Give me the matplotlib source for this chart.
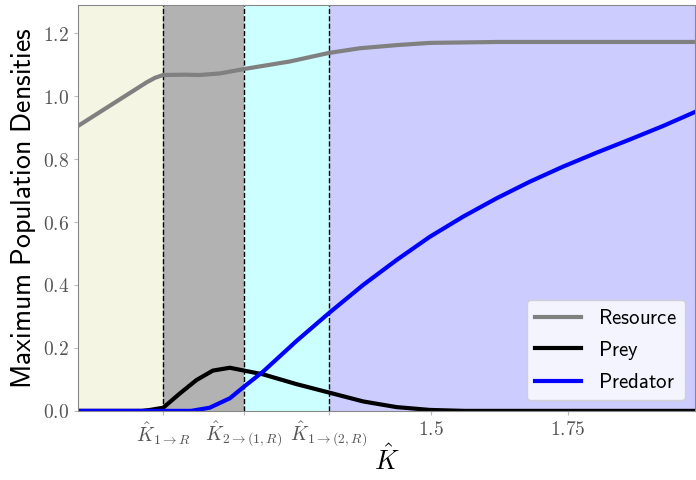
import numpy as np
import matplotlib
matplotlib.use("Agg")
import matplotlib.pyplot as plt

plt.rcParams["mathtext.fontset"] = "cm"

# carrying capacity thresholds between regimes
k_thresholds = [1.009, 1.157, 1.312]
k_labels = [r"$\hat{K}_{1\to R}$", r"$\hat{K}_{2\to(1,R)}$", r"$\hat{K}_{1\to(2,R)}$"]
k_min, k_max = 0.853, 1.983

# maximum densities along K
k_resource = [0.853, 0.979, 0.994, 1.009, 1.049, 1.076, 1.113, 1.157, 1.241, 1.312,
              1.369, 1.437, 1.497, 1.625, 1.983]
resource = [0.905, 1.044, 1.058, 1.067, 1.068, 1.067, 1.072, 1.086, 1.110, 1.137,
            1.152, 1.162, 1.169, 1.172, 1.172]

k_prey = [0.853, 0.970, 0.985, 1.009, 1.040, 1.070, 1.100, 1.131, 1.157, 1.192,
          1.253, 1.313, 1.375, 1.436, 1.497, 1.560, 1.983]
prey = [0.0, 0.0, 0.003, 0.010, 0.056, 0.098, 0.128, 0.137, 0.128, 0.116,
        0.085, 0.058, 0.030, 0.012, 0.003, 0.0, 0.0]

k_predator = [0.853, 1.060, 1.094, 1.131, 1.157, 1.192, 1.253, 1.312, 1.375,
              1.436, 1.497, 1.558, 1.619, 1.680, 1.741, 1.802, 1.863, 1.924, 1.983]
predator = [0.0, 0.0, 0.010, 0.040, 0.077, 0.125, 0.222, 0.310, 0.400,
            0.479, 0.553, 0.617, 0.675, 0.728, 0.776, 0.820, 0.862, 0.905, 0.950]

region_colors = ["#f5f5e3", "#b2b2b2", "#ccffff", "#ccccff"]

fig = plt.figure(figsize=(6.96, 4.8), dpi=100)
ax = fig.add_axes([0.112, 0.144, 0.887, 0.846])

edges = [k_min] + k_thresholds + [k_max]
for i in range(len(region_colors)):
    ax.axvspan(edges[i], edges[i + 1], color=region_colors[i], lw=0, zorder=0)
for k in k_thresholds:
    ax.axvline(k, color="black", ls="--", lw=1, zorder=1)

ax.plot(k_resource, resource, color="gray", lw=3, label=r"$\mathsf{Resource}$")
ax.plot(k_prey, prey, color="black", lw=3, label=r"$\mathsf{Prey}$")
ax.plot(k_predator, predator, color="blue", lw=3, label=r"$\mathsf{Predator}$")

ax.set_xlim(k_min, k_max)
ax.set_ylim(0, 1.29)
ax.set_xticks(k_thresholds + [1.5, 1.75])
ax.set_xticklabels(k_labels + [r"$1.5$", r"$1.75$"])
ax.set_yticks([0.0, 0.2, 0.4, 0.6, 0.8, 1.0, 1.2])
ax.set_yticklabels([r"$%.1f$" % v for v in [0.0, 0.2, 0.4, 0.6, 0.8, 1.0, 1.2]])
ax.tick_params(labelsize=14, labelcolor="#555555", color="#bbbbbb", length=3)
for s in ax.spines.values():
    s.set_color("#888888")

ax.set_xlabel(r"$\hat{K}$", fontsize=19, labelpad=-3)
ax.set_ylabel(r"$\mathsf{Maximum\ Population\ Densities}$", fontsize=20, labelpad=3)

ax.legend(loc="lower right", fontsize=15, framealpha=0.8, handlelength=2.2)

fig.savefig("out.png", dpi=100)
